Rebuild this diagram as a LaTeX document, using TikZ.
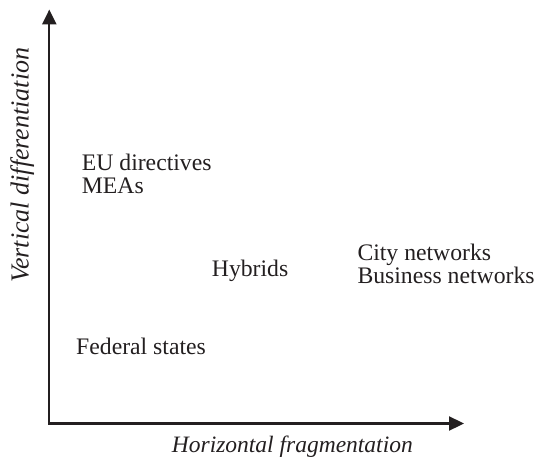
\documentclass[tikz,border=0pt]{standalone}
\usepackage{fontspec}
\setmainfont{Liberation Serif}
\usetikzlibrary{arrows.meta}
\definecolor{ink}{HTML}{231F20}
\begin{document}
\begin{tikzpicture}[x=1pt,y=1pt,
  axis/.style={draw=ink,line width=2.3pt,-{Triangle[width=14pt,length=15pt]}},
  lbl/.style={inner sep=0pt,anchor=base west,text=ink,align=left,font=\fontsize{23.7}{22.6}\selectfont},
  axlbl/.style={inner sep=0pt,anchor=base west,text=ink,font=\fontsize{23.5}{24}\selectfont\itshape}]
\useasboundingbox (0,0) rectangle (535,461);
\coordinate (O) at (49.3,37.5);
\coordinate (Ytip) at (49.3,451.5);
\coordinate (Xtip) at (464,37.5);
\draw[axis] ([xshift=-1.15pt]O) -- (Xtip);
\draw[axis] ([yshift=-1.15pt]O) -- (Ytip);
\node[lbl] (eu) at (81.7,267.7) {EU directives\\MEAs};
\node[lbl] (hyb) at (211.7,184.3) {Hybrids};
\node[lbl] (city) at (357.3,177.7) {City networks\\Business networks};
\node[lbl] (fed) at (76,106.7) {Federal states};
\node[axlbl] (hlab) at (171.7,8.7) {Horizontal fragmentation};
\node[axlbl,rotate=90,font=\fontsize{26}{27}\selectfont\itshape] (vlab) at (28.5,178) {Vertical differentiation};
\end{tikzpicture}
\end{document}
